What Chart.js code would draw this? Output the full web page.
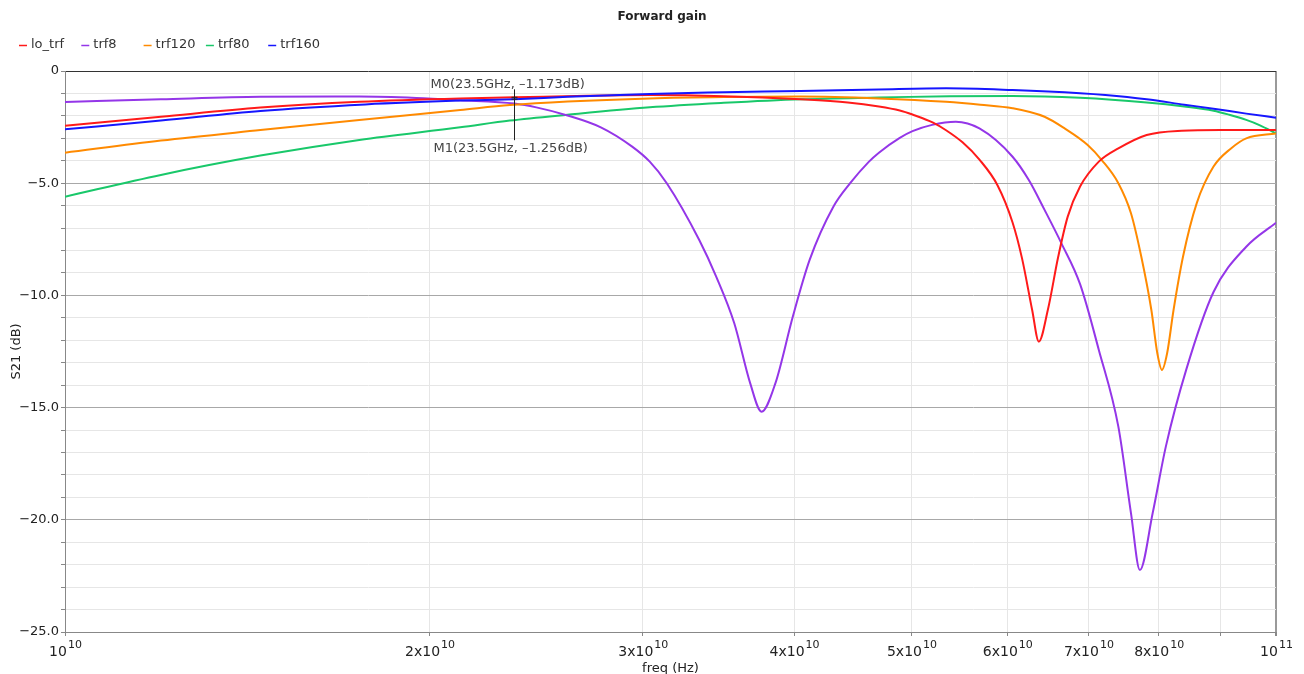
<!DOCTYPE html>
<html>
<head>
<meta charset="utf-8">
<title>Forward gain</title>
<script src="https://cdn.jsdelivr.net/npm/chart.js@4.4.1/dist/chart.umd.min.js"></script>
<style>
  html, body { margin: 0; padding: 0; background: #fff; }
  #wrap { width: 1304px; height: 674px; }
</style>
</head>
<body>
<div id="wrap"><canvas id="gainChart" width="1304" height="674"></canvas></div>
<script>
// frequencies in GHz, S21 in dB
const loTrfFreq = [10, 12, 14.5, 17.5, 21.2, 23.5, 27, 30.4, 35, 40.5, 44.3, 47, 48.9, 50.1, 52.1, 53.4, 55.1, 56.9, 58.9, 60.6, 61.7, 62.9, 63.7, 64.8, 66.1, 67.3, 68.9, 71.4, 74.1, 78.2, 83.6, 90, 100];
const loTrfGain = [-2.44, -2.04, -1.63, -1.37, -1.22, -1.173, -1.10, -1.07, -1.12, -1.26, -1.40, -1.58, -1.76, -1.94, -2.30, -2.64, -3.18, -3.95, -5.1, -6.75, -8.35, -10.65, -12.06, -10.65, -8.27, -6.49, -5.15, -4.04, -3.45, -2.85, -2.66, -2.63, -2.63];

const trf8Freq = [10, 12, 14.5, 17.5, 19.5, 21.2, 23.5, 24.5, 26, 27.7, 29.4, 30.4, 31.4, 33.4, 34.5, 35.7, 36.8, 37.6, 38.6, 39.9, 41.2, 43.1, 44.5, 46.1, 47, 48.9, 50.1, 52, 54.4, 56.9, 60.6, 62.5, 64.4, 66.5, 68.9, 71.4, 74.1, 75.9, 77.2, 79.1, 81.1, 84.3, 88.8, 94.5, 100];
const trf8Gain = [-1.38, -1.26, -1.15, -1.14, -1.20, -1.30, -1.45, -1.62, -1.98, -2.51, -3.37, -4.04, -5.0, -7.53, -9.17, -11.24, -13.92, -15.18, -13.92, -10.95, -8.42, -6.05, -5.0, -4.05, -3.64, -2.98, -2.68, -2.40, -2.26, -2.56, -3.82, -4.86, -6.19, -7.68, -9.5, -12.43, -15.85, -19.7, -22.24, -19.7, -16.74, -13.32, -9.85, -7.83, -6.76];

const trf120Freq = [10, 12, 14.5, 17.5, 21.2, 23.3, 26, 30.4, 35, 40.5, 47, 53.4, 57, 60.6, 64.4, 66.9, 69.9, 71.8, 74.1, 75.9, 77.4, 78.9, 79.8, 80.5, 81.3, 82.3, 83.8, 86, 88.8, 91.8, 94.5, 100];
const trf120Gain = [-3.64, -3.10, -2.63, -2.18, -1.74, -1.52, -1.36, -1.22, -1.16, -1.14, -1.22, -1.37, -1.5, -1.66, -2.04, -2.56, -3.30, -3.97, -5.0, -6.34, -8.27, -10.65, -12.58, -13.32, -12.58, -10.65, -8.27, -5.9, -4.26, -3.45, -3.0, -2.78];

const trf80Freq = [10, 12, 14.5, 17.5, 21.2, 23.3, 26, 30.4, 35, 40.5, 47, 53.8, 60.6, 68.9, 78.2, 84, 88.8, 91.5, 94.5, 97, 100];
const trf80Gain = [-5.6, -4.63, -3.77, -3.07, -2.51, -2.21, -1.95, -1.62, -1.42, -1.26, -1.18, -1.12, -1.11, -1.19, -1.40, -1.58, -1.77, -1.95, -2.18, -2.42, -2.78];

const trf160Freq = [10, 12, 14.5, 17.7, 21.2, 23.5, 26, 30.4, 35, 40.5, 47, 53.4, 60.6, 68.9, 72.3, 78.2, 84, 88.8, 94.5, 100];
const trf160Gain = [-2.6, -2.21, -1.78, -1.49, -1.32, -1.256, -1.15, -1.02, -0.95, -0.89, -0.82, -0.77, -0.85, -0.99, -1.07, -1.26, -1.5, -1.68, -1.9, -2.08];

const seriesNames = ['lo_trf', 'trf8', 'trf120', 'trf80', 'trf160'];
const seriesColors = ['#ff1a1a', '#9436e8', '#ff8a00', '#19c86a', '#1616ff'];

const xTickValues = [1e10, 2e10, 3e10, 4e10, 5e10, 6e10, 7e10, 8e10, 9e10, 1e11];
const xTickBase = ['10', '2x10', '3x10', '4x10', '5x10', '6x10', '7x10', '8x10', '', '10'];
const xTickExp = ['10', '10', '10', '10', '10', '10', '10', '10', '', '11'];

const markerNames = ['M0', 'M1'];
const markerFreq = [23.5, 23.5];
const markerGain = [-1.173, -1.256];

Chart.defaults.font.family = "'DejaVu Sans', sans-serif";

function toPoints(freq, gain) {
    return freq.map((f, i) => ({ x: f * 1e9, y: gain[i] }));
}

const seriesData = [
    toPoints(loTrfFreq, loTrfGain),
    toPoints(trf8Freq, trf8Gain),
    toPoints(trf120Freq, trf120Gain),
    toPoints(trf80Freq, trf80Gain),
    toPoints(trf160Freq, trf160Gain)
];
const drawOrder = [1, 3, 2, 4, 0];

const decorations = {
    id: 'decorations',
    afterDatasetsDraw(chart) {
        const ctx = chart.ctx;
        const xs = chart.scales.x, ys = chart.scales.y;
        // markers
        const mx = Math.round(xs.getPixelForValue(markerFreq[0] * 1e9)) + 0.5;
        const y0 = ys.getPixelForValue(markerGain[0]);
        const y1 = ys.getPixelForValue(markerGain[1]);
        ctx.save();
        ctx.strokeStyle = '#222';
        ctx.lineWidth = 1;
        ctx.beginPath();
        ctx.moveTo(mx, y0 - 8);
        ctx.lineTo(mx, y1 + 41);
        ctx.moveTo(mx - 3, y0);
        ctx.lineTo(mx + 3, y0);
        ctx.moveTo(mx - 3, y1);
        ctx.lineTo(mx + 3, y1);
        ctx.stroke();
        ctx.fillStyle = '#444';
        ctx.font = "13px 'DejaVu Sans'";
        ctx.textBaseline = 'alphabetic';
        ctx.textAlign = 'left';
        const fmt = i => markerNames[i] + '(' + markerFreq[i] + 'GHz, \u2013' + Math.abs(markerGain[i]).toFixed(3) + 'dB)';
        ctx.fillText(fmt(0), mx - 84, y0 - 9);
        ctx.fillText(fmt(1), mx - 81, y1 + 53);
        ctx.restore();
    },
    afterDraw(chart) {
        const ctx = chart.ctx;
        const xs = chart.scales.x;
        ctx.save();
        // title
        ctx.fillStyle = '#222';
        ctx.font = "bold 12px 'DejaVu Sans'";
        ctx.textAlign = 'center';
        ctx.textBaseline = 'middle';
        ctx.fillText('Forward gain', 662, 17);
        // legend
        ctx.font = "13px 'DejaVu Sans'";
        ctx.textAlign = 'left';
        seriesNames.forEach((name, i) => {
            const x = 19 + i * 62.3;
            ctx.strokeStyle = seriesColors[i];
            ctx.lineWidth = 1.5;
            ctx.beginPath();
            ctx.moveTo(x, 45.5);
            ctx.lineTo(x + 8, 45.5);
            ctx.stroke();
            ctx.fillStyle = '#333';
            ctx.fillText(name, x + 12, 45);
        });
        // x tick labels with exponents
        ctx.textBaseline = 'alphabetic';
        ctx.fillStyle = '#222';
        xTickValues.forEach((v, i) => {
            if (!xTickBase[i]) return;
            const px = xs.getPixelForValue(v);
            ctx.font = "14px 'DejaVu Sans'";
            const wb = ctx.measureText(xTickBase[i]).width;
            ctx.font = "11px 'DejaVu Sans'";
            const we = ctx.measureText(xTickExp[i]).width;
            const start = px - (wb + we) / 2;
            ctx.font = "14px 'DejaVu Sans'";
            ctx.fillText(xTickBase[i], start, 656);
            ctx.font = "11px 'DejaVu Sans'";
            ctx.fillText(xTickExp[i], start + wb + 1, 648);
        });
        ctx.restore();
    }
};

const ctx = document.getElementById('gainChart').getContext('2d');
const gainChart = new Chart(ctx, {
    type: 'line',
    data: {
        datasets: seriesNames.map((name, i) => ({
            label: name,
            data: seriesData[i],
            borderColor: seriesColors[i],
            borderWidth: 2,
            pointRadius: 0,
            fill: false,
            cubicInterpolationMode: 'monotone',
            order: drawOrder[i]
        }))
    },
    options: {
        responsive: false,
        animation: false,
        devicePixelRatio: 1,
        layout: { padding: { top: 71, right: 28, left: 0, bottom: 0 } },
        plugins: {
            legend: { display: false },
            title: { display: false },
            tooltip: { enabled: false }
        },
        scales: {
            x: {
                type: 'logarithmic',
                min: 1e10,
                max: 1e11,
                afterBuildTicks(scale) {
                    scale.ticks = xTickValues.map(v => ({ value: v }));
                },
                afterFit(scale) { scale.height = 42; },
                ticks: { display: false },
                grid: {
                    color: c => (c.tick && c.tick.value === 1e11) ? '#9a9a9a' : '#e6e6e6',
                    lineWidth: c => (c.tick && c.tick.value === 1e11) ? 2 : 1,
                    tickColor: '#888',
                    tickLength: 4
                },
                border: { color: '#888' },
                title: {
                    display: true,
                    text: 'freq (Hz)',
                    color: '#222',
                    font: { size: 13 },
                    padding: { top: 0, bottom: -2 }
                }
            },
            y: {
                min: -25,
                max: 0,
                afterFit(scale) { scale.width = 65; },
                ticks: {
                    stepSize: 1,
                    autoSkip: false,
                    padding: 2,
                    color: '#222',
                    font: { size: 13 },
                    callback: v => v === 0 ? '0' : (v % 5 === 0 ? '\u2212' + Math.abs(v).toFixed(1) : '')
                },
                grid: {
                    color: c => c.tick.value === 0 ? '#333' : (c.tick.value % 5 === 0 ? '#a8a8a8' : '#e6e6e6'),
                    tickColor: '#888',
                    tickLength: 4
                },
                border: { color: '#888' },
                title: {
                    display: true,
                    text: 'S21 (dB)',
                    color: '#222',
                    font: { size: 13 },
                    padding: { top: 9, bottom: 0 }
                }
            }
        }
    },
    plugins: [decorations]
});
</script>
</body>
</html>
